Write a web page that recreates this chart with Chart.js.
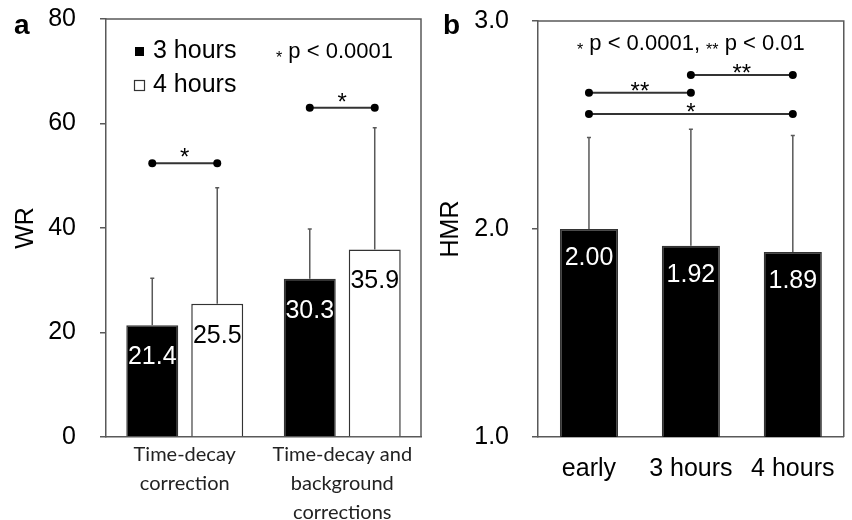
<!DOCTYPE html>
<html>
<head>
<meta charset="utf-8">
<script src="https://cdn.jsdelivr.net/npm/chart.js@4.4.0/dist/chart.umd.min.js"></script>
<style>
  body { margin: 0; background: #fff; }
  #wrap { position: relative; width: 852px; height: 520px; }
  .panel { position: absolute; top: 0; height: 520px; }
  #panel-a { left: 0; width: 430px; }
  #panel-b { left: 430px; width: 422px; }
</style>
</head>
<body>
<div id="wrap">
  <div class="panel" id="panel-a"><canvas id="wr-chart"></canvas></div>
  <div class="panel" id="panel-b"><canvas id="hmr-chart"></canvas></div>
</div>
<script>
// PANEL A - WR
const wrCategories = [['Time-decay', 'correction'], ['Time-decay and', 'background', 'corrections']];
const wrSeries = ['3 hours', '4 hours'];
const wr3h = [21.4, 30.3];
const wr4h = [25.5, 35.9];
const wr3hSD = [9.0, 9.5];
const wr4hSD = [22.2, 23.3];
const wrSigY = [52.4, 63.0];
const wrSigLabel = ['*', '*'];

// PANEL B - HMR
const hmrCategories = ['early', '3 hours', '4 hours'];
const hmrValues = [2.00, 1.92, 1.89];
const hmrSD = [0.44, 0.56, 0.56];
const hmrSigFrom = [0, 1, 0];
const hmrSigTo = [1, 2, 2];
const hmrSigY = [2.655, 2.74, 2.553];
const hmrSigLabel = ['**', '**', '*'];

const FONT = "'Liberation Sans', Arial, sans-serif";
const AXIS = '#595959';

Chart.defaults.font.family = FONT;
Chart.defaults.font.size = 25;
Chart.defaults.color = '#000';

// helpers
function drawFrame(ctx, area) {
    ctx.save();
    ctx.strokeStyle = AXIS;
    ctx.lineWidth = 1.5;
    ctx.beginPath();
    ctx.moveTo(area.left, area.top);
    ctx.lineTo(area.right, area.top);
    ctx.lineTo(area.right, area.bottom);
    ctx.stroke();
    ctx.restore();
}

function drawErrorBar(ctx, x, yFrom, yTo) {
    ctx.save();
    ctx.strokeStyle = AXIS;
    ctx.lineWidth = 1.5;
    ctx.beginPath();
    ctx.moveTo(x, yFrom);
    ctx.lineTo(x, yTo);
    ctx.moveTo(x - 2, yTo);
    ctx.lineTo(x + 2, yTo);
    ctx.stroke();
    ctx.restore();
}

function drawBracket(ctx, x1, x2, y, label, gap) {
    ctx.save();
    ctx.strokeStyle = '#333';
    ctx.lineWidth = 2;
    ctx.beginPath();
    ctx.moveTo(x1, y);
    ctx.lineTo(x2, y);
    ctx.stroke();
    ctx.fillStyle = '#000';
    [x1, x2].forEach(x => {
        ctx.beginPath();
        ctx.arc(x, y, 4, 0, Math.PI * 2);
        ctx.fill();
    });
    ctx.font = '24px ' + FONT;
    ctx.textAlign = 'center';
    ctx.textBaseline = 'alphabetic';
    ctx.fillText(label, (x1 + x2) / 2, y + gap);
    ctx.restore();
}

function drawValueLabel(ctx, text, x, y, color) {
    ctx.save();
    ctx.font = '25px ' + FONT;
    ctx.fillStyle = color;
    ctx.textAlign = 'center';
    ctx.textBaseline = 'middle';
    ctx.fillText(text, x, y);
    ctx.restore();
}

function drawPanelLetter(ctx, letter, x) {
    ctx.save();
    ctx.font = 'bold 28px ' + FONT;
    ctx.fillStyle = '#000';
    ctx.textBaseline = 'alphabetic';
    ctx.fillText(letter, x, 34);
    ctx.restore();
}

// text pieces: [text, size, baseline shift]
function drawPieces(ctx, pieces, x, y, align) {
    ctx.save();
    ctx.fillStyle = '#000';
    ctx.textBaseline = 'alphabetic';
    ctx.textAlign = 'left';
    const widths = pieces.map(p => { ctx.font = p[1] + 'px ' + FONT; return ctx.measureText(p[0]).width; });
    const total = widths.reduce((a, b) => a + b, 0);
    let cx = align === 'center' ? x - total / 2 : x;
    pieces.forEach((p, i) => {
        ctx.font = p[1] + 'px ' + FONT;
        ctx.fillText(p[0], cx, y + p[2]);
        cx += widths[i];
    });
    ctx.restore();
}

// fixed axis box, no extra label padding on top/bottom
function fixYAxis(width) {
    return s => {
        s.width = width;
        s.paddingTop = 0;
        s.paddingBottom = 0;
    };
}

// PANEL A plugin
const wrExtras = {
    id: 'wrExtras',
    afterDatasetsDraw(chart) {
        const { ctx, chartArea: area, scales: { y } } = chart;
        drawFrame(ctx, area);
        const vals = [wr3h, wr4h];
        const sds = [wr3hSD, wr4hSD];
        const textColors = ['#fff', '#000'];
        [0, 1].forEach(d => {
            chart.getDatasetMeta(d).data.forEach((bar, i) => {
                const top = y.getPixelForValue(vals[d][i]);
                drawErrorBar(ctx, bar.x, top, y.getPixelForValue(vals[d][i] + sds[d][i]));
                drawValueLabel(ctx, vals[d][i].toFixed(1), bar.x, top + 32, textColors[d]);
            });
        });
        wrSigY.forEach((v, i) => {
            const x1 = chart.getDatasetMeta(0).data[i].x;
            const x2 = chart.getDatasetMeta(1).data[i].x;
            drawBracket(ctx, x1, x2, y.getPixelForValue(v), wrSigLabel[i], 2);
        });

        // legend
        ctx.save();
        ctx.fillStyle = '#000';
        ctx.fillRect(135, 47, 9, 9);
        ctx.strokeStyle = '#333';
        ctx.lineWidth = 1.2;
        ctx.strokeRect(134.5, 80.5, 10, 10);
        ctx.font = '25px ' + FONT;
        ctx.textBaseline = 'alphabetic';
        ctx.fillText(wrSeries[0], 153, 58);
        ctx.fillText(wrSeries[1], 153, 92);
        ctx.restore();
        drawPieces(ctx, [['*', 16, 5], [' p < 0.0001', 22, 0]], 276, 58, 'left');

        drawPanelLetter(ctx, 'a', 14);
    }
};

// PANEL B plugin
const hmrExtras = {
    id: 'hmrExtras',
    afterDatasetsDraw(chart) {
        const { ctx, chartArea: area, scales: { y } } = chart;
        drawFrame(ctx, area);
        const bars = chart.getDatasetMeta(0).data;
        bars.forEach((bar, i) => {
            const top = y.getPixelForValue(hmrValues[i]);
            drawErrorBar(ctx, bar.x, top, y.getPixelForValue(hmrValues[i] + hmrSD[i]));
            drawValueLabel(ctx, hmrValues[i].toFixed(2), bar.x, top + 29, '#fff');
        });
        hmrSigY.forEach((v, i) => {
            drawBracket(ctx, bars[hmrSigFrom[i]].x, bars[hmrSigTo[i]].x, y.getPixelForValue(v), hmrSigLabel[i], 6);
        });
        drawPieces(ctx, [['*', 16, 5], [' p < 0.0001, ', 22, 0], ['**', 16, 5], [' p < 0.01', 22, 0]],
            (area.left + area.right) / 2, 50, 'center');
        drawPanelLetter(ctx, 'b', 13);
    }
};

// WR chart
new Chart(document.getElementById('wr-chart'), {
    type: 'bar',
    data: {
        labels: wrCategories,
        datasets: [
            { label: wrSeries[0], data: wr3h, backgroundColor: '#000', borderColor: '#333', borderWidth: 1.5 },
            { label: wrSeries[1], data: wr4h, backgroundColor: '#fff', borderColor: '#333', borderWidth: 1.5 }
        ]
    },
    options: {
        responsive: true,
        maintainAspectRatio: false,
        animation: false,
        categoryPercentage: 0.825,
        barPercentage: 0.8,
        layout: { padding: { top: 19, right: 9, left: 0, bottom: 0 } },
        plugins: { legend: { display: false }, tooltip: { enabled: false } },
        scales: {
            x: {
                grid: { display: false, drawTicks: false },
                border: { display: true, color: AXIS, width: 1.5 },
                ticks: { color: '#222', padding: 3, font: { family: "Lato, 'Open Sans', sans-serif", size: 20, lineHeight: 1.45 } },
                afterFit: s => { s.height = 83; }
            },
            y: {
                min: 0, max: 80,
                grid: { display: true, drawOnChartArea: false, drawTicks: true, tickLength: 6, color: AXIS, lineWidth: 1.5 },
                border: { display: true, color: AXIS, width: 1.5 },
                ticks: { stepSize: 20, padding: 24, color: '#000' },
                title: { display: true, text: 'WR', padding: { top: 11, bottom: 0 }, font: { size: 25 } },
                afterFit: fixYAxis(106)
            }
        }
    },
    plugins: [wrExtras]
});

// HMR chart
new Chart(document.getElementById('hmr-chart'), {
    type: 'bar',
    data: {
        labels: hmrCategories,
        datasets: [
            { label: 'HMR', data: hmrValues, backgroundColor: '#000', borderColor: '#333', borderWidth: 1.5 }
        ]
    },
    options: {
        responsive: true,
        maintainAspectRatio: false,
        animation: false,
        categoryPercentage: 1,
        barPercentage: 0.57,
        layout: { padding: { top: 21, right: 3, left: 0, bottom: 0 } },
        plugins: { legend: { display: false }, tooltip: { enabled: false } },
        scales: {
            x: {
                grid: { display: false, drawTicks: false },
                border: { display: true, color: AXIS, width: 1.5 },
                ticks: { color: '#000', padding: 17, font: { size: 25 } },
                afterFit: s => { s.height = 83; }
            },
            y: {
                min: 1, max: 3,
                grid: { display: true, drawOnChartArea: false, drawTicks: true, tickLength: 6, color: AXIS, lineWidth: 1.5 },
                border: { display: true, color: AXIS, width: 1.5 },
                ticks: { stepSize: 1, padding: 23, color: '#000', callback: v => Number(v).toFixed(1) },
                title: { display: true, text: 'HMR', padding: { top: 6, bottom: 0 }, font: { size: 25 } },
                afterFit: fixYAxis(108)
            }
        }
    },
    plugins: [hmrExtras]
});
</script>
</body>
</html>
